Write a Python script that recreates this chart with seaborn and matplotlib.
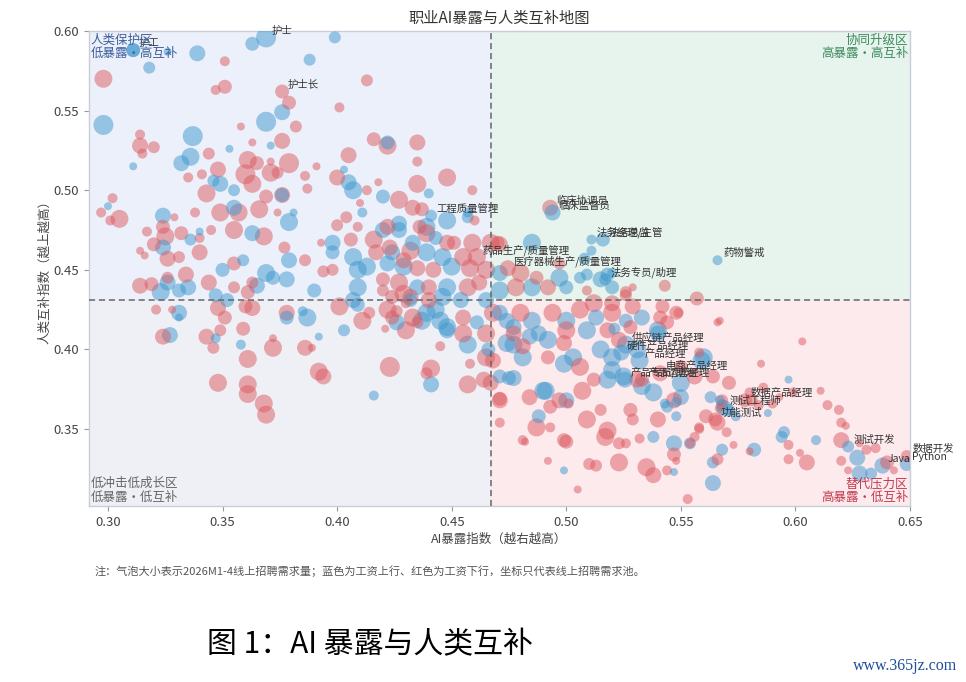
import numpy as np
import pandas as pd
import matplotlib
matplotlib.use('Agg')
import matplotlib.pyplot as plt
import seaborn as sns

'''
data read off the map: AI exposure (x), human complementarity (y),
online posting demand (bubble size, estimated), wage direction (colour)
'''

# wage going up (blue)
up_x = [0.298, 0.311, 0.318, 0.326, 0.339, 0.363, 0.388, 0.399, 0.376, 0.369,
        0.337, 0.336, 0.332, 0.311, 0.353, 0.371, 0.300, 0.324, 0.346, 0.349,
        0.355, 0.376, 0.379, 0.381, 0.403, 0.405, 0.407, 0.420, 0.422, 0.440,
        0.411, 0.448, 0.457, 0.324, 0.336, 0.340, 0.355, 0.363, 0.398, 0.398,
        0.379, 0.359, 0.350, 0.369, 0.323, 0.326, 0.331, 0.335, 0.331, 0.331,
        0.327, 0.347, 0.352, 0.347, 0.358, 0.365, 0.372, 0.378, 0.390, 0.378,
        0.387, 0.385, 0.392, 0.403, 0.409, 0.407, 0.409, 0.416, 0.441, 0.457,
        0.466, 0.448, 0.437, 0.443, 0.446, 0.432, 0.511, 0.485, 0.508, 0.509,
        0.518, 0.457, 0.427, 0.443, 0.439, 0.446, 0.422, 0.429, 0.450, 0.471,
        0.497, 0.506, 0.515, 0.520, 0.435, 0.448, 0.471, 0.485, 0.500, 0.520,
        0.454, 0.439, 0.445, 0.448, 0.461, 0.474, 0.485, 0.500, 0.513, 0.526,
        0.426, 0.488, 0.509, 0.465, 0.471, 0.477, 0.474, 0.481, 0.484, 0.492,
        0.503, 0.499, 0.515, 0.520, 0.520, 0.518, 0.525, 0.533, 0.538, 0.531,
        0.540, 0.533, 0.559, 0.550, 0.563, 0.567, 0.550, 0.544, 0.548, 0.538,
        0.547, 0.554, 0.500, 0.488, 0.490, 0.477, 0.471, 0.499, 0.547, 0.564,
        0.564, 0.568, 0.574, 0.582, 0.568, 0.571, 0.588, 0.597, 0.595, 0.594,
        0.609, 0.627, 0.628, 0.633, 0.540, 0.560, 0.521, 0.477, 0.475, 0.543,
        0.548, 0.491, 0.407, 0.413, 0.424, 0.420, 0.427, 0.433, 0.439, 0.409]
up_y = [0.541, 0.588, 0.577, 0.587, 0.586, 0.592, 0.582, 0.596, 0.549, 0.543,
        0.534, 0.521, 0.517, 0.515, 0.526, 0.528, 0.490, 0.484, 0.506, 0.504,
        0.500, 0.497, 0.480, 0.486, 0.513, 0.505, 0.500, 0.496, 0.530, 0.498,
        0.486, 0.481, 0.483, 0.464, 0.469, 0.474, 0.489, 0.473, 0.467, 0.461,
        0.456, 0.456, 0.450, 0.448, 0.436, 0.442, 0.437, 0.439, 0.423, 0.420,
        0.409, 0.434, 0.431, 0.407, 0.403, 0.440, 0.445, 0.444, 0.437, 0.420,
        0.420, 0.424, 0.408, 0.412, 0.439, 0.431, 0.428, 0.371, 0.378, 0.403,
        0.400, 0.412, 0.418, 0.425, 0.433, 0.431, 0.462, 0.467, 0.457, 0.447,
        0.447, 0.486, 0.479, 0.470, 0.461, 0.458, 0.454, 0.452, 0.452, 0.448,
        0.445, 0.445, 0.444, 0.448, 0.439, 0.439, 0.437, 0.439, 0.439, 0.439,
        0.431, 0.423, 0.418, 0.414, 0.417, 0.418, 0.418, 0.418, 0.420, 0.418,
        0.417, 0.410, 0.412, 0.431, 0.423, 0.414, 0.404, 0.395, 0.408, 0.406,
        0.395, 0.391, 0.400, 0.395, 0.387, 0.381, 0.383, 0.377, 0.373, 0.400,
        0.410, 0.420, 0.393, 0.379, 0.370, 0.368, 0.370, 0.364, 0.358, 0.345,
        0.341, 0.341, 0.368, 0.358, 0.374, 0.382, 0.383, 0.324, 0.323, 0.316,
        0.329, 0.337, 0.358, 0.337, 0.365, 0.362, 0.360, 0.381, 0.348, 0.345,
        0.343, 0.332, 0.322, 0.322, 0.412, 0.395, 0.413, 0.403, 0.382, 0.366,
        0.367, 0.374, 0.458, 0.452, 0.461, 0.475, 0.475, 0.467, 0.477, 0.450]
up_demand = [100, 49, 36, 16, 64, 49, 36, 36, 64, 100,
             100, 81, 64, 16, 16, 16, 16, 64, 36, 64,
             36, 49, 81, 16, 16, 64, 81, 49, 49, 25,
             25, 81, 36, 64, 36, 16, 64, 64, 64, 49,
             64, 36, 49, 81, 81, 64, 49, 64, 64, 16,
             64, 49, 49, 25, 25, 64, 49, 64, 49, 49,
             81, 25, 16, 36, 81, 64, 49, 25, 64, 81,
             49, 64, 81, 81, 81, 49, 25, 81, 36, 36,
             49, 25, 64, 49, 81, 81, 64, 81, 81, 64,
             81, 36, 64, 25, 64, 81, 81, 81, 49, 49,
             64, 81, 81, 81, 49, 64, 81, 81, 64, 49,
             64, 64, 81, 64, 64, 64, 81, 81, 64, 81,
             81, 81, 81, 81, 81, 81, 81, 81, 81, 81,
             64, 64, 81, 81, 36, 25, 64, 36, 25, 36,
             64, 36, 64, 49, 81, 64, 49, 16, 16, 64,
             36, 36, 25, 49, 36, 36, 16, 16, 36, 36,
             25, 64, 64, 36, 81, 81, 36, 81, 49, 25,
             25, 81, 81, 81, 64, 64, 64, 64, 81, 81]

# wage going down (red)
down_x = [0.298, 0.351, 0.351, 0.347, 0.379, 0.413, 0.401, 0.382, 0.358, 0.376,
          0.314, 0.314, 0.320, 0.315, 0.344, 0.363, 0.361, 0.365, 0.371, 0.379,
          0.391, 0.386, 0.387, 0.374, 0.371, 0.360, 0.348, 0.341, 0.335, 0.363,
          0.343, 0.369, 0.376, 0.405, 0.416, 0.422, 0.435, 0.435, 0.435, 0.448,
          0.418, 0.413, 0.400, 0.427, 0.433, 0.437, 0.410, 0.302, 0.297, 0.301,
          0.305, 0.338, 0.329, 0.349, 0.357, 0.366, 0.374, 0.355, 0.368, 0.345,
          0.340, 0.317, 0.324, 0.325, 0.332, 0.320, 0.314, 0.316, 0.326, 0.331,
          0.340, 0.377, 0.386, 0.394, 0.400, 0.404, 0.409, 0.393, 0.355, 0.314,
          0.319, 0.326, 0.334, 0.344, 0.355, 0.361, 0.363, 0.321, 0.328, 0.348,
          0.360, 0.363, 0.351, 0.349, 0.343, 0.324, 0.359, 0.346, 0.372, 0.372,
          0.361, 0.386, 0.389, 0.378, 0.401, 0.411, 0.414, 0.424, 0.421, 0.426,
          0.435, 0.430, 0.392, 0.394, 0.423, 0.441, 0.439, 0.457, 0.445, 0.458,
          0.468, 0.467, 0.348, 0.361, 0.361, 0.368, 0.369, 0.420, 0.429, 0.497,
          0.470, 0.460, 0.459, 0.422, 0.436, 0.448, 0.451, 0.459, 0.467, 0.471,
          0.423, 0.432, 0.455, 0.435, 0.442, 0.458, 0.465, 0.480, 0.487, 0.420,
          0.427, 0.440, 0.457, 0.462, 0.478, 0.492, 0.509, 0.526, 0.424, 0.432,
          0.440, 0.422, 0.433, 0.455, 0.468, 0.480, 0.494, 0.506, 0.520, 0.512,
          0.520, 0.529, 0.430, 0.455, 0.465, 0.477, 0.500, 0.518, 0.481, 0.465,
          0.499, 0.492, 0.506, 0.523, 0.512, 0.531, 0.544, 0.541, 0.548, 0.542,
          0.557, 0.566, 0.550, 0.556, 0.564, 0.571, 0.547, 0.561, 0.558, 0.540,
          0.528, 0.529, 0.518, 0.517, 0.523, 0.509, 0.515, 0.501, 0.497, 0.507,
          0.487, 0.484, 0.493, 0.471, 0.471, 0.481, 0.499, 0.464, 0.471, 0.482,
          0.493, 0.500, 0.492, 0.510, 0.513, 0.523, 0.505, 0.526, 0.532, 0.535,
          0.538, 0.544, 0.547, 0.548, 0.554, 0.556, 0.553, 0.558, 0.566, 0.570,
          0.566, 0.573, 0.580, 0.567, 0.568, 0.581, 0.580, 0.584, 0.586, 0.585,
          0.590, 0.593, 0.599, 0.603, 0.611, 0.614, 0.619, 0.620, 0.622, 0.597,
          0.597, 0.602, 0.605, 0.620, 0.628, 0.620, 0.623, 0.631, 0.635, 0.640,
          0.643, 0.543, 0.526, 0.529, 0.549, 0.567, 0.558, 0.528, 0.417, 0.416,
          0.429, 0.439, 0.406, 0.398]
down_y = [0.570, 0.581, 0.565, 0.563, 0.555, 0.569, 0.552, 0.540, 0.540, 0.531,
          0.535, 0.528, 0.527, 0.523, 0.523, 0.530, 0.519, 0.517, 0.518, 0.517,
          0.515, 0.509, 0.501, 0.511, 0.511, 0.510, 0.513, 0.510, 0.508, 0.504,
          0.498, 0.496, 0.497, 0.522, 0.532, 0.528, 0.530, 0.518, 0.504, 0.508,
          0.505, 0.500, 0.508, 0.494, 0.489, 0.488, 0.492, 0.495, 0.486, 0.481,
          0.482, 0.486, 0.483, 0.486, 0.486, 0.488, 0.486, 0.475, 0.471, 0.475,
          0.470, 0.474, 0.477, 0.471, 0.473, 0.466, 0.462, 0.459, 0.457, 0.458,
          0.461, 0.464, 0.456, 0.449, 0.478, 0.483, 0.477, 0.467, 0.454, 0.440,
          0.441, 0.445, 0.447, 0.442, 0.439, 0.436, 0.442, 0.425, 0.425, 0.426,
          0.427, 0.426, 0.420, 0.412, 0.408, 0.408, 0.413, 0.401, 0.407, 0.401,
          0.394, 0.401, 0.401, 0.423, 0.427, 0.418, 0.423, 0.420, 0.413, 0.424,
          0.417, 0.429, 0.386, 0.383, 0.389, 0.388, 0.385, 0.378, 0.402, 0.391,
          0.393, 0.379, 0.379, 0.378, 0.372, 0.366, 0.359, 0.437, 0.435, 0.454,
          0.467, 0.481, 0.500, 0.477, 0.477, 0.467, 0.467, 0.467, 0.467, 0.466,
          0.464, 0.462, 0.458, 0.451, 0.450, 0.451, 0.450, 0.448, 0.445, 0.444,
          0.442, 0.439, 0.439, 0.442, 0.439, 0.439, 0.437, 0.436, 0.433, 0.433,
          0.431, 0.425, 0.420, 0.420, 0.423, 0.423, 0.423, 0.425, 0.423, 0.429,
          0.429, 0.427, 0.412, 0.410, 0.410, 0.410, 0.412, 0.412, 0.402, 0.395,
          0.404, 0.395, 0.389, 0.406, 0.381, 0.381, 0.417, 0.420, 0.423, 0.427,
          0.432, 0.417, 0.389, 0.383, 0.383, 0.379, 0.368, 0.358, 0.351, 0.356,
          0.362, 0.356, 0.349, 0.345, 0.341, 0.356, 0.362, 0.366, 0.368, 0.374,
          0.351, 0.370, 0.364, 0.368, 0.354, 0.343, 0.343, 0.381, 0.369, 0.342,
          0.351, 0.342, 0.330, 0.328, 0.327, 0.329, 0.312, 0.341, 0.344, 0.326,
          0.321, 0.324, 0.334, 0.330, 0.341, 0.345, 0.306, 0.350, 0.331, 0.348,
          0.354, 0.340, 0.336, 0.363, 0.368, 0.368, 0.373, 0.365, 0.376, 0.391,
          0.366, 0.370, 0.373, 0.405, 0.374, 0.365, 0.362, 0.354, 0.352, 0.340,
          0.331, 0.335, 0.329, 0.343, 0.341, 0.330, 0.324, 0.337, 0.338, 0.329,
          0.324, 0.440, 0.434, 0.439, 0.423, 0.418, 0.398, 0.414, 0.461, 0.469,
          0.456, 0.473, 0.469, 0.450]
down_demand = [81, 25, 49, 25, 49, 36, 25, 36, 16, 64,
               25, 64, 36, 25, 36, 16, 81, 49, 16, 100,
               16, 25, 25, 36, 81, 100, 64, 25, 25, 81,
               81, 49, 64, 64, 49, 81, 64, 25, 81, 81,
               16, 25, 64, 81, 64, 49, 16, 25, 25, 25,
               81, 25, 16, 81, 81, 81, 16, 81, 81, 25,
               25, 25, 49, 81, 49, 49, 16, 16, 64, 36,
               64, 36, 36, 36, 36, 36, 25, 16, 49, 64,
               49, 36, 64, 64, 36, 49, 36, 25, 16, 64,
               49, 64, 49, 36, 64, 64, 49, 36, 16, 81,
               81, 64, 16, 64, 81, 81, 36, 49, 16, 36,
               36, 25, 81, 64, 100, 81, 36, 81, 25, 25,
               64, 64, 81, 81, 81, 81, 81, 36, 81, 36,
               49, 25, 25, 64, 49, 64, 49, 81, 81, 64,
               64, 81, 81, 64, 64, 81, 81, 81, 49, 49,
               81, 64, 81, 64, 81, 64, 25, 36, 49, 64,
               64, 81, 81, 64, 81, 81, 81, 81, 81, 81,
               64, 64, 81, 81, 81, 64, 81, 64, 64, 81,
               64, 49, 81, 64, 49, 64, 49, 49, 49, 49,
               49, 16, 49, 64, 49, 49, 64, 49, 25, 64,
               49, 36, 81, 81, 36, 81, 36, 25, 64, 81,
               81, 64, 49, 64, 25, 25, 49, 64, 49, 16,
               25, 49, 16, 36, 36, 81, 16, 25, 25, 81,
               64, 25, 49, 16, 25, 25, 25, 25, 36, 25,
               64, 16, 16, 25, 36, 36, 25, 25, 25, 16,
               25, 16, 25, 16, 16, 25, 25, 25, 16, 25,
               25, 16, 64, 64, 16, 25, 16, 25, 25, 49,
               16, 36, 36, 16, 25, 16, 25, 49, 64, 81,
               64, 81, 49, 36]

# labelled occupations
label_names = ['护士', '护工', '护士长', '工程质量管理', '临床协调员', '临床监督员',
               '法务经理/主管', '法务总监', '药品生产/质量管理', '医疗器械生产/质量管理',
               '法务专员/助理', '药物警戒', '供应链产品经理', '硬件产品经理', '产品经理',
               '电商产品经理', '产品专员/助理', '产品运营经理', '数据产品经理', '测试工程师',
               '功能测试', '测试开发', '数据开发', 'Java', 'Python']
label_x = [0.369, 0.311, 0.376, 0.441, 0.493, 0.494, 0.511, 0.516, 0.461, 0.4745,
           0.517, 0.566, 0.526, 0.524, 0.532, 0.541, 0.5256, 0.533, 0.578, 0.569,
           0.565, 0.623, 0.6486, 0.638, 0.6486]
label_y = [0.596, 0.588, 0.562, 0.484, 0.489, 0.486, 0.469, 0.469, 0.458, 0.451,
           0.444, 0.456, 0.403, 0.398, 0.393, 0.385, 0.381, 0.381, 0.368, 0.363,
           0.356, 0.339, 0.333, 0.327, 0.328]
label_demand = [100, 49, 49, 36, 64, 64, 25, 49, 81, 64,
                36, 25, 81, 64, 81, 64, 64, 49, 49, 64,
                49, 36, 36, 64, 49]
label_wage = ['上行', '上行', '下行', '上行', '下行', '上行', '上行', '上行', '下行', '下行',
              '上行', '上行', '上行', '上行', '上行', '下行', '上行', '下行', '下行', '上行',
              '下行', '上行', '下行', '上行', '上行']

x_cut = 0.467   # exposure threshold
y_cut = 0.431   # complementarity threshold

up = pd.DataFrame({'x': up_x, 'y': up_y, 'demand': up_demand, 'wage': '上行'})
down = pd.DataFrame({'x': down_x, 'y': down_y, 'demand': down_demand, 'wage': '下行'})
lab = pd.DataFrame({'x': label_x, 'y': label_y, 'demand': label_demand, 'wage': label_wage})
jobs = pd.concat([up, down, lab], ignore_index=True)
jobs = jobs.sort_values('demand', ascending=False, kind='stable')

'''
plot
'''
sns.set_style('ticks')
plt.rcParams['font.family'] = ['Noto Sans CJK SC', 'DejaVu Sans']
plt.rcParams['axes.unicode_minus'] = False

fig = plt.figure(figsize=(9.66, 6.82), dpi=100)
ax = fig.add_axes([0.0921, 0.258, 0.8499, 0.6965])

xmin, xmax = 0.2917, 0.65
ymin, ymax = 0.3016, 0.60

# quadrant backgrounds
ax.fill_between([xmin, x_cut], y_cut, ymax, color='#ECF0FA', lw=0, zorder=0)
ax.fill_between([xmin, x_cut], ymin, y_cut, color='#EEF0F6', lw=0, zorder=0)
ax.fill_between([x_cut, xmax], y_cut, ymax, color='#E7F3ED', lw=0, zorder=0)
ax.fill_between([x_cut, xmax], ymin, y_cut, color='#FCEAED', lw=0, zorder=0)

sns.scatterplot(data=jobs, x='x', y='y', hue='wage',
                palette={'上行': '#3E98CE', '下行': '#DC5A60'},
                size='demand', sizes=(33, 207), size_norm=(16, 100),
                alpha=0.5, linewidth=0, legend=False, ax=ax, zorder=3)

ax.axvline(x_cut, color='#666666', ls=(0, (4, 2.5)), lw=1.1, zorder=4)
ax.axhline(y_cut, color='#666666', ls=(0, (4, 2.5)), lw=1.1, zorder=4)

for name, px, py in zip(label_names, label_x, label_y):
    ax.annotate(name, (px, py), xytext=(4, 5), textcoords='offset points',
                ha='left', va='center', fontsize=7.5, color='#333333', zorder=5)

# quadrant names
qkw = dict(transform=ax.transAxes, fontsize=9, linespacing=1.05, zorder=6)
ax.text(0.002, 0.995, '人类保护区\n低暴露·高互补', ha='left', va='top', color='#3B5E9C', **qkw)
ax.text(0.998, 0.995, '协同升级区\n高暴露·高互补', ha='right', va='top', color='#3D8A5E', **qkw)
ax.text(0.002, 0.005, '低冲击低成长区\n低暴露·低互补', ha='left', va='bottom', color='#666666', **qkw)
ax.text(0.998, 0.005, '替代压力区\n高暴露·低互补', ha='right', va='bottom', color='#C23A50', **qkw)

ax.set_xlim(xmin, xmax)
ax.set_ylim(ymin, ymax)
ax.set_xticks(np.arange(0.30, 0.651, 0.05))
ax.set_yticks(np.arange(0.35, 0.601, 0.05))
ax.xaxis.set_major_formatter(matplotlib.ticker.FormatStrFormatter('%.2f'))
ax.yaxis.set_major_formatter(matplotlib.ticker.FormatStrFormatter('%.2f'))
ax.tick_params(labelsize=9.5, labelcolor='#444444', color='#999999', length=3.5, width=0.8)
for sp in ax.spines.values():
    sp.set_color('#C8CDD8')
    sp.set_linewidth(1)

ax.set_xlabel('AI暴露指数（越右越高）', fontsize=9, color='#444444', labelpad=3)
ax.set_ylabel('人类互补指数（越上越高）', fontsize=9, color='#444444', labelpad=2)

fig.text(0.5166, 0.9736, '职业AI暴露与人类互补地图', ha='center', va='center',
         fontsize=11, color='#333333')
fig.text(0.0983, 0.1628,
         '注：气泡大小表示2026M1-4线上招聘需求量；蓝色为工资上行、红色为工资下行，坐标只代表线上招聘需求池。',
         ha='left', va='center', fontsize=8.0, color='#555555')
fig.text(0.214, 0.0543, '图 1：AI 暴露与人类互补', ha='left', va='center',
         fontsize=21.5, color='black')
fig.text(0.9907, 0.0235, 'www.365jz.com', ha='right', va='center', fontsize=11.5,
         color='#1F4E9A', family=['Liberation Serif', 'DejaVu Serif'])

fig.savefig('out.png', dpi=100)
